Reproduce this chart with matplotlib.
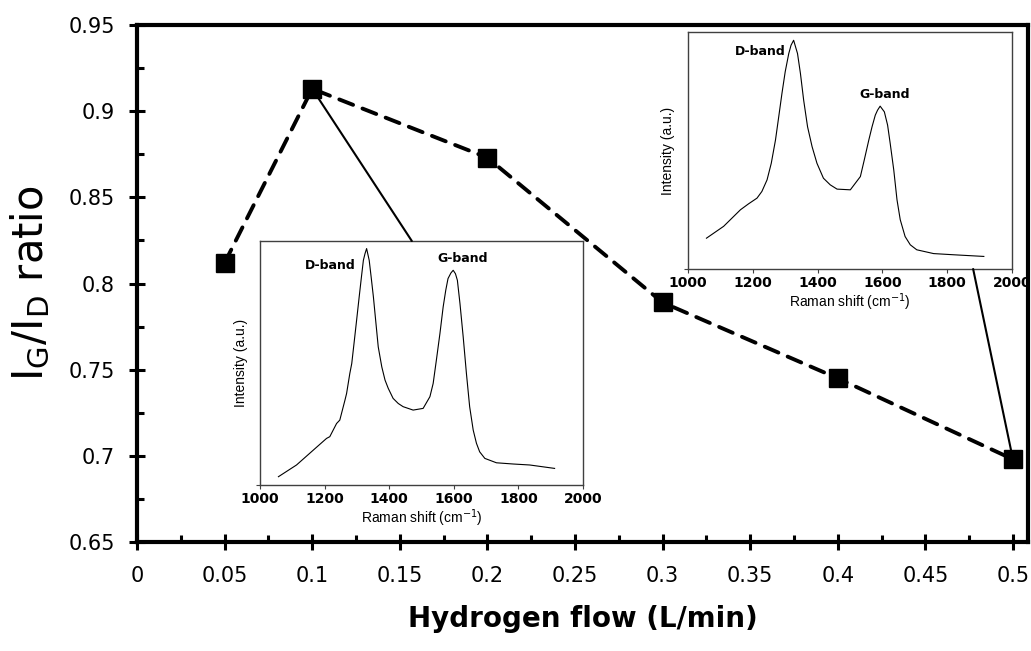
import matplotlib
matplotlib.use('Agg')
import matplotlib.pyplot as plt
from matplotlib import font_manager
from matplotlib.patches import ConnectionPatch

# main data
flow = [0.05, 0.1, 0.2, 0.3, 0.4, 0.5]
ratio = [0.812, 0.913, 0.873, 0.789, 0.745, 0.698]

# raman spectrum, inset near 0.1 L/min (normalised intensity)
shift_a = [1057, 1113, 1165, 1206, 1216, 1237, 1247, 1263, 1268, 1278, 1284, 1291,
           1299, 1307, 1314, 1320, 1325, 1330, 1338, 1344, 1351, 1358, 1366, 1377,
           1387, 1397, 1412, 1428, 1443, 1474, 1505, 1526, 1536, 1546, 1557, 1567,
           1575, 1582, 1591, 1598, 1605, 1611, 1619, 1629, 1639, 1649, 1660, 1670,
           1680, 1696, 1732, 1784, 1835, 1912]
inten_a = [0.034, 0.082, 0.143, 0.191, 0.198, 0.252, 0.266, 0.348, 0.375, 0.457, 0.498, 0.580,
           0.675, 0.771, 0.853, 0.921, 0.948, 0.969, 0.921, 0.853, 0.771, 0.675, 0.566, 0.484,
           0.430, 0.396, 0.355, 0.334, 0.321, 0.307, 0.314, 0.362, 0.416, 0.512, 0.621, 0.730,
           0.798, 0.846, 0.869, 0.880, 0.866, 0.839, 0.744, 0.607, 0.457, 0.321, 0.225, 0.171,
           0.136, 0.109, 0.091, 0.086, 0.082, 0.068]

# raman spectrum, inset near 0.5 L/min
shift_b = [1057, 1110, 1162, 1187, 1213, 1228, 1244, 1257, 1270, 1280, 1290, 1300,
           1311, 1318, 1326, 1338, 1347, 1357, 1369, 1383, 1398, 1418, 1439, 1460,
           1501, 1532, 1544, 1558, 1568, 1578, 1585, 1593, 1606, 1616, 1624, 1635,
           1645, 1655, 1670, 1686, 1706, 1758, 1820, 1913]
inten_b = [0.130, 0.180, 0.250, 0.275, 0.299, 0.327, 0.376, 0.446, 0.544, 0.642, 0.741, 0.832,
           0.909, 0.944, 0.965, 0.909, 0.825, 0.712, 0.600, 0.516, 0.446, 0.383, 0.355, 0.337,
           0.334, 0.390, 0.460, 0.544, 0.600, 0.649, 0.670, 0.687, 0.663, 0.607, 0.530, 0.418,
           0.292, 0.208, 0.137, 0.102, 0.081, 0.065, 0.060, 0.053]

raman_ticks = [1000, 1200, 1400, 1600, 1800, 2000]

names = {f.name for f in font_manager.fontManager.ttflist}
arial = 'Liberation Sans' if 'Liberation Sans' in names else 'DejaVu Sans'

fig = plt.figure(figsize=(10.31, 6.51), dpi=100)
ax = fig.add_axes([0.1329, 0.1674, 0.9971 - 0.1329, 0.9616 - 0.1674])

ax.plot(flow, ratio, color='black', lw=2.8, ls=(0, (3.8, 2.6)), dash_capstyle='round',
        marker='s', markersize=13, zorder=3)

ax.set_xlim(0, 0.5086)
ax.set_ylim(0.65, 0.95)
ax.set_xticks([i * 0.05 for i in range(11)])
ax.set_xticklabels(['0', '0.05', '0.1', '0.15', '0.2', '0.25', '0.3', '0.35', '0.4', '0.45', '0.5'],
                   fontsize=15)
ax.set_xticks([0.025 + i * 0.05 for i in range(10)], minor=True)
ax.set_yticks([0.65, 0.7, 0.75, 0.8, 0.85, 0.9, 0.95])
ax.set_yticklabels(['0.65', '0.7', '0.75', '0.8', '0.85', '0.9', '0.95'], fontsize=15)
ax.set_yticks([0.675, 0.725, 0.775, 0.825, 0.875, 0.925], minor=True)

ax.tick_params(which='major', direction='inout', length=12, width=2.2)
ax.tick_params(which='minor', direction='in', length=5, width=2.2)
ax.tick_params(axis='x', which='major', pad=11)
ax.tick_params(axis='y', which='major', pad=10)
for s in ax.spines.values():
    s.set_linewidth(3)

ax.set_xlabel('Hydrogen flow (L/min)', fontsize=20, fontweight='bold', labelpad=14)
ax.set_ylabel('I$_\\mathregular{G}$/I$_\\mathregular{D}$ ratio', fontsize=30, labelpad=12)


def inset(rect, x, y, labels):
    ia = fig.add_axes(rect)
    ia.plot(x, y, color='black', lw=0.8)
    ia.set_xlim(1000, 2000)
    ia.set_ylim(0, 1)
    ia.set_xticks(raman_ticks)
    ia.set_xticklabels([str(t) for t in raman_ticks], fontsize=10, fontweight='bold')
    ia.set_yticks([0])
    ia.set_yticklabels([''])
    ia.tick_params(length=3, width=0.8, pad=2, color='#404040')
    for s in ia.spines.values():
        s.set_linewidth(1)
        s.set_color('#404040')
    ia.set_xlabel('Raman shift (cm$^{-1}$)', fontfamily=arial, fontsize=10, labelpad=1)
    ia.set_ylabel('Intensity (a.u.)', fontfamily=arial, fontsize=10, labelpad=4)
    for txt, tx, ty in labels:
        ia.text(tx, ty, txt, fontsize=9, fontweight='bold', ha='center', va='center')
    return ia


in1 = inset([0.2522, 0.2550, 0.3133, 0.3748], shift_a, inten_a,
            [('D-band', 1216, 0.90), ('G-band', 1626, 0.928)])
in2 = inset([0.6673, 0.5868, 0.3143, 0.3641], shift_b, inten_b,
            [('D-band', 1223, 0.916), ('G-band', 1607, 0.736)])

# connector lines from data points to insets
con1 = ConnectionPatch(xyA=(flow[1], ratio[1]), coordsA='data', axesA=ax,
                       xyB=(1470, 1), coordsB='data', axesB=in1, color='black', lw=1.5)
con2 = ConnectionPatch(xyA=(flow[5], ratio[5]), coordsA='data', axesA=ax,
                       xyB=(1880, 0), coordsB='data', axesB=in2, color='black', lw=1.5)
fig.add_artist(con1)
fig.add_artist(con2)

fig.savefig('out.png', dpi=100)
